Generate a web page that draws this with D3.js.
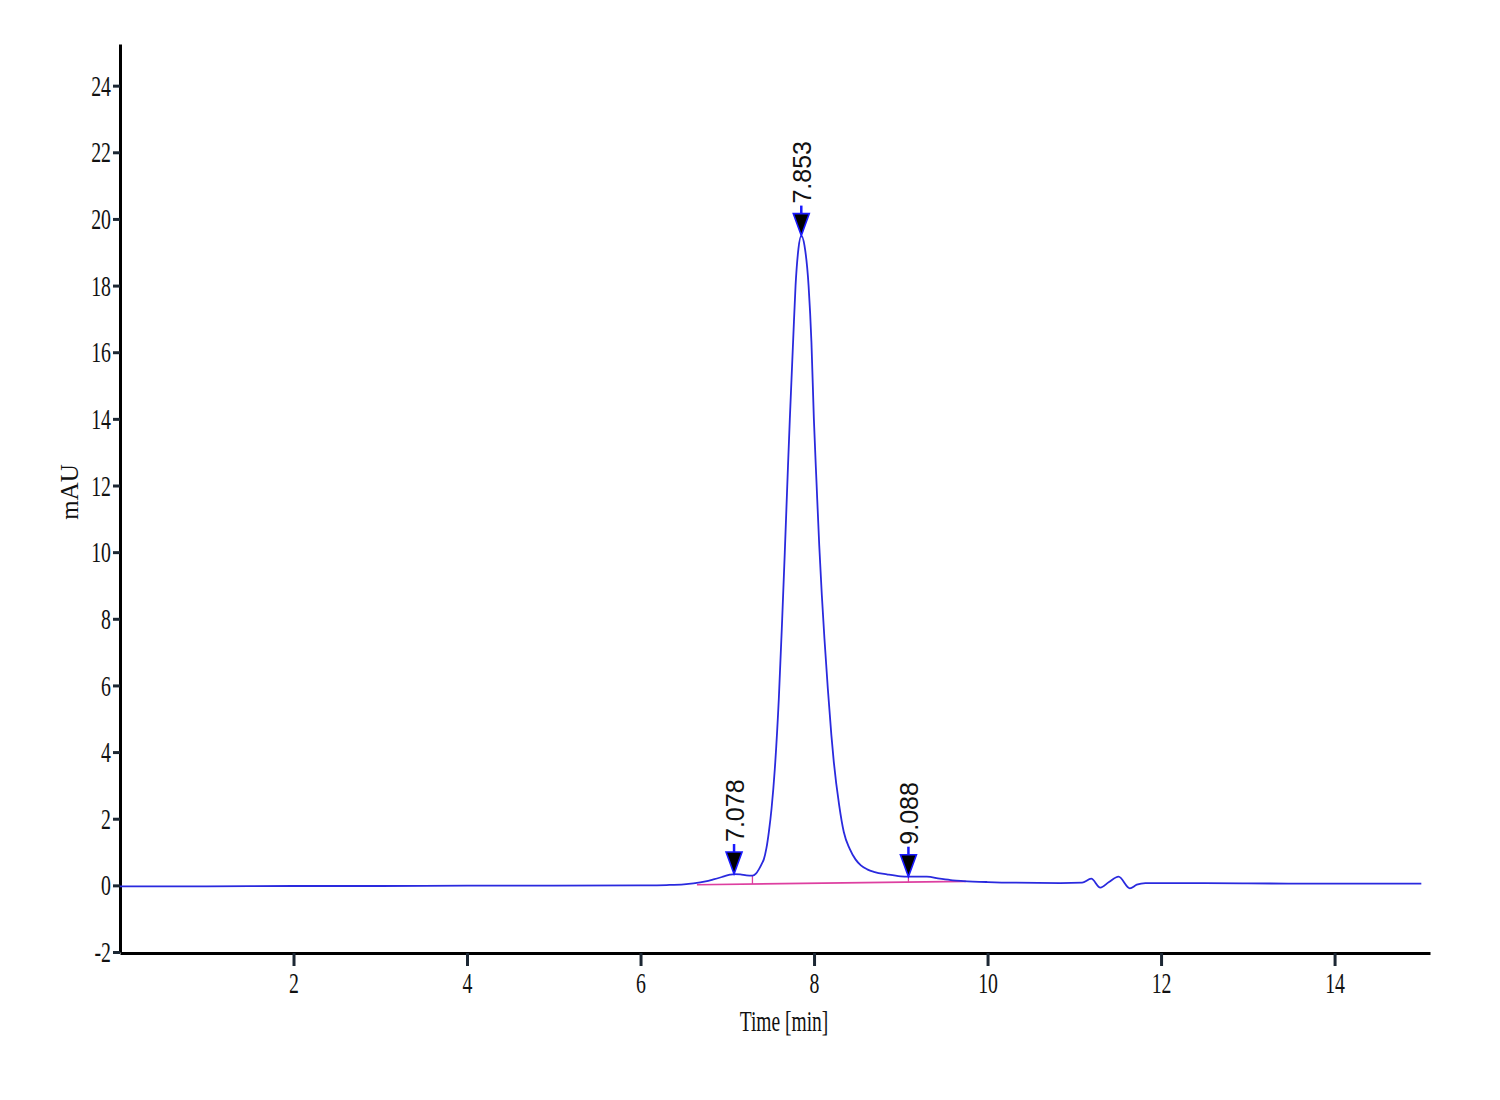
<!DOCTYPE html>
<html>
<head>
<meta charset="utf-8">
<script src="https://cdn.jsdelivr.net/npm/d3@7"></script>
<style>
  html, body { margin: 0; padding: 0; background: #ffffff; }
  svg { display: block; }
</style>
</head>
<body>
<svg id="chart" width="1500" height="1100"></svg>
<script>
// ---------------- data ----------------
const timeMin = [
  0.0, 1.0, 2.0, 3.0, 4.0, 5.0, 6.0, 6.3, 6.5, 6.61, 6.75, 6.84, 6.95, 7.03, 7.08,
  7.15, 7.22, 7.29, 7.33, 7.364, 7.40, 7.421, 7.45, 7.479, 7.51, 7.548, 7.594,
  7.633, 7.663, 7.70, 7.721, 7.76, 7.787, 7.82, 7.853, 7.89, 7.937, 7.97,
  7.998, 8.03, 8.06, 8.09, 8.12, 8.159, 8.2, 8.228, 8.29, 8.343, 8.41, 8.478, 8.54,
  8.613, 8.70, 8.84, 8.997, 9.088, 9.2, 9.30, 9.45, 9.6, 9.72, 10.0, 10.3, 10.84,
  11.09, 11.195, 11.30, 11.40, 11.51, 11.64, 11.72, 11.82, 12.5, 13.0, 14.0, 15.0
];
const signalMAU = [
  -0.03, -0.03, -0.02, -0.02, -0.01, -0.01, 0.0, 0.01, 0.03, 0.06, 0.12, 0.18, 0.26, 0.32, 0.34,
  0.33, 0.30, 0.29, 0.35, 0.48, 0.66, 0.78, 1.1, 1.6, 2.3, 3.5, 5.6,
  8.0, 10.0, 12.6, 14.0, 16.4, 18.0, 19.1, 19.5, 19.2, 18.0, 16.3,
  14.0, 12.0, 10.2, 8.7, 7.4, 5.9, 4.5, 3.7, 2.4, 1.6, 1.1, 0.78, 0.6,
  0.48, 0.40, 0.33, 0.27, 0.26, 0.26, 0.26, 0.20, 0.15, 0.13, 0.10, 0.08, 0.07,
  0.08, 0.20, -0.07, 0.10, 0.26, -0.09, 0.02, 0.07, 0.07, 0.06, 0.05, 0.05
];

const baselineTimes  = [6.65, 9.75];
const baselineValues = [0.02, 0.12];

const dropTimes   = [7.29, 9.088];
const dropBottoms = [0.04, 0.09];
const dropTops    = [0.29, 0.26];

const peakTimes   = [7.078, 7.853, 9.088];
const peakHeights = [0.34, 19.5, 0.26];
const peakLabels  = ["7.078", "7.853", "9.088"];

const xTicks = [2, 4, 6, 8, 10, 12, 14];
const yTicks = [-2, 0, 2, 4, 6, 8, 10, 12, 14, 16, 18, 20, 22, 24];

const xTitle = "Time [min]";
const yTitle = "mAU";

// ---------------- layout ----------------
const svg = d3.select("#chart");
const plotLeft = 120, plotRight = 1430, plotTop = 44, plotBottom = 952;
const condense = 0.66;

const x = d3.scaleLinear().domain([0, 15.1]).range([plotLeft, plotRight]);
const y = d3.scaleLinear().domain([-2, 25.25]).range([plotBottom, plotTop]);

svg.append("rect").attr("width", 1500).attr("height", 1100).attr("fill", "#ffffff");

// ---------------- axes ----------------
const tickFont = "'Liberation Serif', 'Times New Roman', serif";
const plainNumber = d => String(d);   // hyphen-minus like the reference

const yAxis = svg.append("g")
  .attr("transform", `translate(${plotLeft},0)`)
  .call(d3.axisLeft(y).tickValues(yTicks).tickFormat(plainNumber)
        .tickSize(7).tickPadding(2).tickSizeOuter(0));
yAxis.select(".domain").attr("stroke", "#000").attr("stroke-width", 3);
yAxis.selectAll(".tick line").attr("stroke", "#1c2733").attr("stroke-width", 3);
yAxis.selectAll(".tick text")
  .attr("font-family", tickFont).attr("font-size", 30).attr("fill", "#111")
  .attr("x", -9 / condense)
  .attr("transform", `scale(${condense},1)`);

const xAxis = svg.append("g")
  .attr("transform", `translate(0,${plotBottom + 1})`)
  .call(d3.axisBottom(x).tickValues(xTicks).tickFormat(plainNumber)
        .tickSize(13).tickPadding(6).tickSizeOuter(0));
xAxis.select(".domain").attr("stroke", "#000").attr("stroke-width", 3);
xAxis.selectAll(".tick line").attr("stroke", "#1c2733").attr("stroke-width", 3);
xAxis.selectAll(".tick text")
  .attr("font-family", tickFont).attr("font-size", 30).attr("fill", "#111")
  .attr("transform", `scale(${condense},1)`);

// axis titles
svg.append("text")
  .attr("transform", `translate(${784},${1031}) scale(0.65,1)`)
  .attr("text-anchor", "middle")
  .attr("font-family", tickFont).attr("font-size", 30).attr("fill", "#111")
  .text(xTitle);

svg.append("text")
  .attr("transform", `translate(${78},${492}) rotate(-90)`)
  .attr("text-anchor", "middle")
  .attr("font-family", tickFont).attr("font-size", 25).attr("fill", "#111")
  .text(yTitle);

// ---------------- integration baseline ----------------
const baseLine = d3.line().x(d => x(d[0])).y(d => y(d[1]));
svg.append("path")
  .datum(baselineTimes.map((t, i) => [t, baselineValues[i]]))
  .attr("d", baseLine)
  .attr("fill", "none").attr("stroke", "#dd3fa0").attr("stroke-width", 1.6);

svg.selectAll(".drop")
  .data(dropTimes)
  .enter().append("line")
  .attr("class", "drop")
  .attr("x1", d => x(d)).attr("x2", d => x(d))
  .attr("y1", (d, i) => y(dropBottoms[i]))
  .attr("y2", (d, i) => y(dropTops[i]))
  .attr("stroke", "#dd3fa0").attr("stroke-width", 1.3);

// ---------------- chromatogram ----------------
const trace = d3.line()
  .x(d => x(d[0])).y(d => y(d[1]))
  .curve(d3.curveMonotoneX);
svg.append("path")
  .datum(timeMin.map((t, i) => [t, signalMAU[i]]))
  .attr("d", trace)
  .attr("fill", "none").attr("stroke", "#2a2ade").attr("stroke-width", 1.8)
  .attr("stroke-linejoin", "round");

// ---------------- peak markers ----------------
const markers = svg.selectAll(".peak")
  .data(peakTimes)
  .enter().append("g")
  .attr("class", "peak")
  .attr("transform", (d, i) => `translate(${x(d)},${y(peakHeights[i])})`);

const triW = 16, triH = 22, stemH = 8;
markers.append("line")
  .attr("x1", 0).attr("x2", 0)
  .attr("y1", -triH).attr("y2", -triH - stemH)
  .attr("stroke", "#1a1aff").attr("stroke-width", 2.5);
markers.append("path")
  .attr("d", `M0,0 L${-triW / 2},${-triH} L${triW / 2},${-triH} Z`)
  .attr("fill", "#000").attr("stroke", "#1a1aff").attr("stroke-width", 1.6)
  .attr("stroke-linejoin", "miter");
markers.append("text")
  .attr("transform", `translate(1,${-triH - stemH - 2}) rotate(-90)`)
  .attr("dy", "0.36em")
  .attr("text-anchor", "start")
  .attr("font-family", "'Liberation Sans', Arial, sans-serif")
  .attr("font-size", 25).attr("fill", "#111")
  .text((d, i) => peakLabels[i]);
</script>
</body>
</html>
